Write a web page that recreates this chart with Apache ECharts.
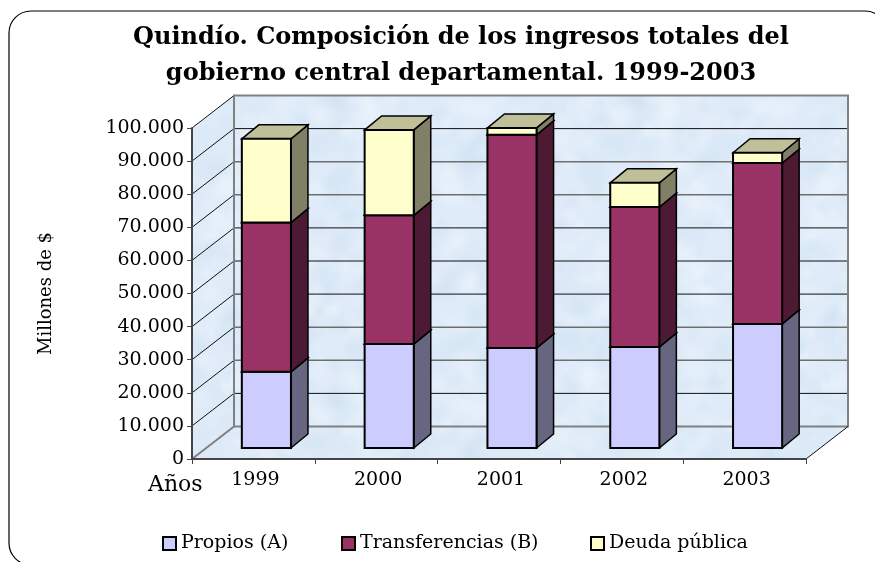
<!DOCTYPE html>
<html><head><meta charset="utf-8">
<style>html,body{margin:0;padding:0;background:#fff;overflow:hidden}#c{width:875px;height:562px}</style>
<script src="https://cdn.jsdelivr.net/npm/echarts@6/dist/echarts.min.js"></script>
</head><body><div id="c"></div>
<script>
var years = ['1999','2000','2001','2002','2003'];
var propios = [23000,31400,30200,30500,37500];
var transferencias = [45100,38900,64400,42300,48600];
var deuda = [25300,25800,2100,7300,3100];
var yTicks = [0,10000,20000,30000,40000,50000,60000,70000,80000,90000,100000];

var FONT = '"DejaVu Serif", serif';
var WALL = [42,-32.5], BAR_NEAR = [13,-11], BAR_FAR = [30,-25], BAR_RATIO = 0.4;

function tile(){
  var s=300,c=document.createElement('canvas');c.width=c.height=s;var g=c.getContext('2d');
  g.fillStyle='#deebf8';g.fillRect(0,0,s,s);
  function h(n){var v=Math.sin(n*127.1+311.7)*43758.5453;return v-Math.floor(v);}
  var cols=['234,244,253','208,226,243','228,232,250','240,247,253','204,224,241'];
  for(var i=0;i<520;i++){
    var x=h(i)*s,y=h(i+1000)*s,r=5+h(i+2000)*16,col=cols[i%cols.length];
    [[0,0],[s,0],[-s,0],[0,s],[0,-s]].forEach(function(o){
      var gr=g.createRadialGradient(x+o[0],y+o[1],0,x+o[0],y+o[1],r);
      gr.addColorStop(0,'rgba('+col+',0.38)');gr.addColorStop(1,'rgba('+col+',0)');
      g.fillStyle=gr;g.fillRect(x+o[0]-r,y+o[1]-r,2*r,2*r);
    });
  }
  return c;
}
var tex={image:tile(),repeat:'repeat'};

function fmt(v){return String(v).replace(/\B(?=(\d{3})+$)/g,'.');}
function line(p,q,stroke,w){return {type:'line',shape:{x1:p[0],y1:p[1],x2:q[0],y2:q[1]},style:{stroke:stroke,lineWidth:w}};}
function poly(pts,fill,stroke,w){return {type:'polygon',shape:{points:pts},style:{fill:fill,stroke:stroke,lineWidth:w,lineJoin:'miter'}};}

var darkLines={10000:1,40000:1,50000:1,60000:1,90000:1};
function renderWalls(params,api){
  var cs=params.coordSys,L=cs.x,R=cs.x+cs.width,kids=[];
  var y0=api.coord([0,0])[1],yT=api.coord([0,100000])[1];
  function back(x,y){return [x+WALL[0],y+WALL[1]];}
  kids.push(poly([[L,y0],back(L,y0),back(L,yT),[L,yT]],tex,'none',0));
  kids.push(poly([back(L,yT),back(R,yT),back(R,y0),back(L,y0)],tex,'none',0));
  kids.push(poly([[L,y0],back(L,y0),back(R,y0),[R,y0]],tex,'none',0));
  yTicks.forEach(function(v){
    var y=api.coord([0,v])[1];
    if(v>0) kids.push(line([L,y],back(L,y),'#111',1));
    if(v>0&&v<100000) kids.push(line(back(L,y),back(R,y),darkLines[v]?'#111':'#6e6e6e',darkLines[v]?1:1.6));
  });
  kids.push(poly([back(L,yT),back(R,yT),back(R,y0),back(L,y0)],'none','#808080',2));
  kids.push(line([L,y0],back(L,y0),'#808080',2));
  kids.push(line([R,y0],back(R,y0),'#111',1));
  return {type:'group',children:kids};
}
function barSeries(name,own,base,front,side,top){
  return {name:name,type:'custom',z:3,coordinateSystem:'cartesian2d',
    itemStyle:{color:front,borderColor:'#000',borderWidth:1.5},
    encode:{x:0,y:[1,2]},
    data:years.map(function(y,i){return [i,base[i],base[i]+own[i]];}),
    renderItem:function(params,api){
      var lo=api.coord([api.value(0),api.value(1)]),hi=api.coord([api.value(0),api.value(2)]);
      var bw=api.size([1,0])[0]*BAR_RATIO,x0=lo[0]-bw/2+BAR_NEAR[0],x1=x0+bw,yb=lo[1]+BAR_NEAR[1],yt=hi[1]+BAR_NEAR[1];
      var dx=BAR_FAR[0]-BAR_NEAR[0],dy=BAR_FAR[1]-BAR_NEAR[1];
      return {type:'group',children:[
        poly([[x1,yb],[x1+dx,yb+dy],[x1+dx,yt+dy],[x1,yt]],side,'#000',1.5),
        poly([[x0,yt],[x0+dx,yt+dy],[x1+dx,yt+dy],[x1,yt]],top,'#000',1.5),
        poly([[x0,yb],[x1,yb],[x1,yt],[x0,yt]],front,'#000',2)
      ]};
    }};
}
function add(a,b){return a.map(function(v,i){return v+b[i];});}
var zeros=years.map(function(){return 0;});
var base2=add(zeros,propios), base3=add(base2,transferencias);
function leg(name,left){return {left:left,top:529,itemWidth:13,itemHeight:13,icon:'rect',selectedMode:false,data:[name],
  textStyle:{fontFamily:FONT,fontSize:19,color:'#000'}};}

var chart=echarts.init(document.getElementById('c'),null,{renderer:'canvas'});
chart.setOption({
  animation:false,backgroundColor:'#fff',
  textStyle:{fontFamily:FONT,color:'#000'},
  title:{text:'Quindío. Composición de los ingresos totales del\ngobierno central departamental. 1999-2003',left:456,top:15,textAlign:'center',
    textStyle:{fontFamily:FONT,fontWeight:'bold',fontSize:24,lineHeight:36,color:'#000'}},
  grid:{left:192,top:128,width:614,height:331,containLabel:false},
  legend:[leg('Propios (A)',157),leg('Transferencias (B)',336),leg('Deuda pública',585)],
  xAxis:{type:'category',data:years,z:6,
    axisLine:{lineStyle:{color:'#444',width:2}},
    axisTick:{show:true,length:5,alignWithLabel:false,lineStyle:{color:'#444',width:1}},
    axisLabel:{margin:12,padding:[0,0,0,4],fontFamily:FONT,fontSize:19,color:'#000'},splitLine:{show:false}},
  yAxis:{type:'value',min:0,max:100000,interval:10000,z:6,
    name:'Millones de $',nameLocation:'middle',nameRotate:90,nameGap:137,
    nameTextStyle:{fontFamily:FONT,fontSize:18,color:'#000'},
    axisLine:{show:true,lineStyle:{color:'#444',width:2}},
    axisTick:{show:true,length:5,lineStyle:{color:'#444',width:1}},
    axisLabel:{margin:8,padding:[0,0,3,0],fontFamily:FONT,fontSize:19,color:'#000',formatter:fmt},splitLine:{show:false}},
  graphic:[
    {type:'rect',z:-1,shape:{x:9,y:11,width:878,height:554,r:22},style:{fill:'#fff',stroke:'#000',lineWidth:1.2}},
    {type:'text',left:148,top:474,style:{text:'Años',font:'22px '+FONT,fill:'#000'}}
  ],
  series:[
    {name:'walls',type:'custom',z:1,silent:true,data:[[0,0]],renderItem:renderWalls},
    barSeries('Propios (A)',propios,zeros,'#CCCCFF','#666680','#a3a3cc'),
    barSeries('Transferencias (B)',transferencias,base2,'#993366','#4d1a33','#7a2952'),
    barSeries('Deuda pública',deuda,base3,'#FFFFCC','#808066','#BFBF99')
  ]
});
</script></body></html>
